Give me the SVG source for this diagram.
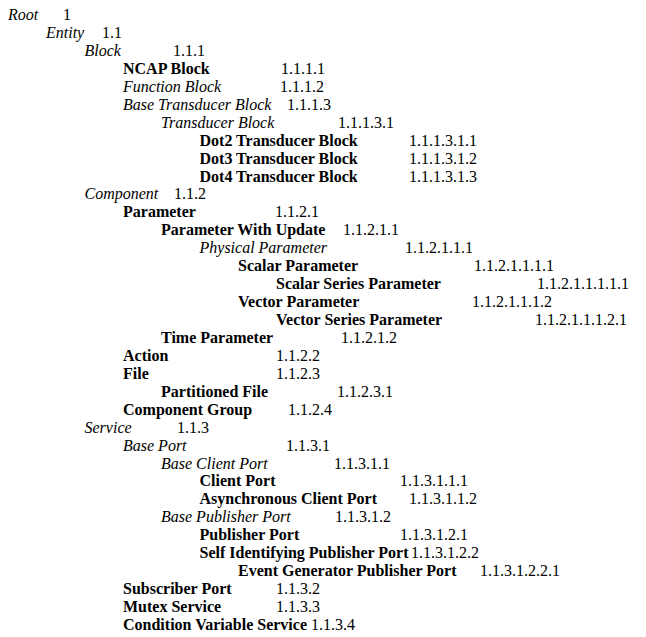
<svg xmlns="http://www.w3.org/2000/svg" width="646" height="637" viewBox="0 0 646 637">
<style>
text{font-family:"Liberation Serif","Times New Roman",serif;font-size:16px;fill:#000}
.i{font-style:italic}
.b{font-weight:bold}
</style>
<rect width="646" height="637" fill="#fff"/>
<g id="connectors"></g>
<g id="n-root"><text class="i" x="8" y="20">Root</text><text x="63" y="20">1</text></g>
<g id="n-entity"><text class="i" x="46" y="37.9">Entity</text><text x="102" y="37.9">1.1</text></g>
<g id="n-block"><text class="i" x="84.5" y="55.9">Block</text><text x="173" y="55.9">1.1.1</text></g>
<g id="n-ncap"><text class="b" x="123" y="73.8">NCAP Block</text><text x="281" y="73.8">1.1.1.1</text></g>
<g id="n-function"><text class="i" x="123" y="91.8">Function Block</text><text x="280" y="91.8">1.1.1.2</text></g>
<g id="n-basetrans"><text class="i" x="123" y="109.7">Base Transducer Block</text><text x="287" y="109.7">1.1.1.3</text></g>
<g id="n-trans"><text class="i" x="161" y="127.6">Transducer Block</text><text x="338" y="127.6">1.1.1.3.1</text></g>
<g id="n-dot2"><text class="b" x="199.5" y="145.6">Dot2 Transducer Block</text><text x="409" y="145.6">1.1.1.3.1.1</text></g>
<g id="n-dot3"><text class="b" x="199.5" y="163.5">Dot3 Transducer Block</text><text x="409" y="163.5">1.1.1.3.1.2</text></g>
<g id="n-dot4"><text class="b" x="199.5" y="181.5">Dot4 Transducer Block</text><text x="409" y="181.5">1.1.1.3.1.3</text></g>
<g id="n-component"><text class="i" x="84.5" y="199.4">Component</text><text x="174" y="199.4">1.1.2</text></g>
<g id="n-parameter"><text class="b" x="123" y="217.3">Parameter</text><text x="275" y="217.3">1.1.2.1</text></g>
<g id="n-pwu"><text class="b" x="161" y="235.3">Parameter With Update</text><text x="343" y="235.3">1.1.2.1.1</text></g>
<g id="n-physical"><text class="i" x="199.5" y="253.2">Physical Parameter</text><text x="405" y="253.2">1.1.2.1.1.1</text></g>
<g id="n-scalar"><text class="b" x="238" y="271.2">Scalar Parameter</text><text x="474" y="271.2">1.1.2.1.1.1.1</text></g>
<g id="n-scalarseries"><text class="b" x="276" y="289.1">Scalar Series Parameter</text><text x="537" y="289.1">1.1.2.1.1.1.1.1</text></g>
<g id="n-vector"><text class="b" x="238" y="307">Vector Parameter</text><text x="472" y="307">1.1.2.1.1.1.2</text></g>
<g id="n-vectorseries"><text class="b" x="276" y="325">Vector Series Parameter</text><text x="535" y="325">1.1.2.1.1.1.2.1</text></g>
<g id="n-time"><text class="b" x="161" y="342.9">Time Parameter</text><text x="341" y="342.9">1.1.2.1.2</text></g>
<g id="n-action"><text class="b" x="123" y="360.9">Action</text><text x="276" y="360.9">1.1.2.2</text></g>
<g id="n-file"><text class="b" x="123" y="378.8">File</text><text x="276" y="378.8">1.1.2.3</text></g>
<g id="n-partitioned"><text class="b" x="161" y="396.7">Partitioned File</text><text x="337" y="396.7">1.1.2.3.1</text></g>
<g id="n-compgroup"><text class="b" x="123" y="414.7">Component Group</text><text x="288" y="414.7">1.1.2.4</text></g>
<g id="n-service"><text class="i" x="84.5" y="432.6">Service</text><text x="177" y="432.6">1.1.3</text></g>
<g id="n-baseport"><text class="i" x="123" y="450.6">Base Port</text><text x="286" y="450.6">1.1.3.1</text></g>
<g id="n-baseclient"><text class="i" x="161" y="468.5">Base Client Port</text><text x="334" y="468.5">1.1.3.1.1</text></g>
<g id="n-client"><text class="b" x="199.5" y="486.4">Client Port</text><text x="400" y="486.4">1.1.3.1.1.1</text></g>
<g id="n-async"><text class="b" x="199.5" y="504.4">Asynchronous Client Port</text><text x="409" y="504.4">1.1.3.1.1.2</text></g>
<g id="n-basepub"><text class="i" x="161" y="522.3">Base Publisher Port</text><text x="335" y="522.3">1.1.3.1.2</text></g>
<g id="n-publisher"><text class="b" x="199.5" y="540.3">Publisher Port</text><text x="400" y="540.3">1.1.3.1.2.1</text></g>
<g id="n-selfid"><text class="b" x="199.5" y="558.2">Self Identifying Publisher Port</text><text x="411" y="558.2">1.1.3.1.2.2</text></g>
<g id="n-eventgen"><text class="b" x="238" y="576.1">Event Generator Publisher Port</text><text x="480" y="576.1">1.1.3.1.2.2.1</text></g>
<g id="n-subscriber"><text class="b" x="123" y="594.1">Subscriber Port</text><text x="276" y="594.1">1.1.3.2</text></g>
<g id="n-mutex"><text class="b" x="123" y="612">Mutex Service</text><text x="276" y="612">1.1.3.3</text></g>
<g id="n-condition"><text class="b" x="123" y="630">Condition Variable Service</text><text x="311" y="630">1.1.3.4</text></g>
</svg>
